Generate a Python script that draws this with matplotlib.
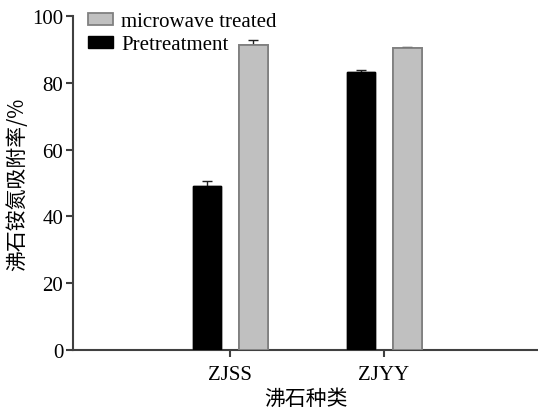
import numpy as np
import matplotlib
matplotlib.use('Agg')
import matplotlib.pyplot as plt

# data
categories = ['ZJSS', 'ZJYY']
pretreatment = [49.0, 83.2]
pretreatment_err = [1.6, 0.7]
microwave = [91.3, 90.4]
microwave_err = [1.5, 0.3]
yticks = [0, 20, 40, 60, 80, 100]

serif = ['Liberation Serif', 'DejaVu Serif']
cjk = ['Noto Sans CJK SC', 'DejaVu Sans']

fig = plt.figure(figsize=(5.38, 4.10), dpi=100)
ax = fig.add_axes([0.1357, 0.1439, 0.8643, 0.8146])

x = np.arange(len(categories))
w = 0.185
off = 0.151

ekw = dict(ecolor='#202020', capsize=3.5, elinewidth=1, capthick=1)
b1 = ax.bar(x - off, pretreatment, w, color='black', edgecolor='black', linewidth=1,
            yerr=pretreatment_err, error_kw=ekw, zorder=2)
b2 = ax.bar(x + off, microwave, w, color='#c0c0c0', edgecolor='#808080', linewidth=1.3,
            yerr=microwave_err, error_kw=ekw, zorder=2)
# redraw bars on top so only the upper half of each error bar shows
ax.bar(x - off, pretreatment, w, color='black', edgecolor='black', linewidth=1, zorder=3)
ax.bar(x + off, microwave, w, color='#c0c0c0', edgecolor='#808080', linewidth=1.3, zorder=3)

ax.set_xlim(-1.02, 2.0)
ax.set_ylim(0, 100)
ax.set_xticks(x)
ax.set_xticklabels(categories, fontfamily=serif, fontsize=15)
ax.set_yticks(yticks)
ax.set_yticklabels([str(v) for v in yticks], fontfamily=serif, fontsize=15)

for s in ['top', 'right']:
    ax.spines[s].set_visible(False)
for s in ['left', 'bottom']:
    ax.spines[s].set_color('#404040')
    ax.spines[s].set_linewidth(1.5)
ax.tick_params(axis='y', direction='out', length=5, width=1.5, color='#404040', pad=2)
ax.tick_params(axis='x', direction='out', length=5, width=1.5, color='#404040', pad=6)

ax.set_ylabel('沸石铵氮吸附率/%', fontfamily=cjk, fontsize=15, labelpad=3)
ax.set_xlabel('沸石种类', fontfamily=cjk, fontsize=15, labelpad=2)

ax.legend([b2, b1], ['microwave treated', 'Pretreatment'], loc='upper left',
          bbox_to_anchor=(0.0, 1.055), frameon=False, prop={'family': serif, 'size': 15},
          handlelength=1.2, handleheight=0.5, handletextpad=0.4, labelspacing=0.2,
          borderaxespad=0.3)

fig.savefig('out.png', dpi=100)
